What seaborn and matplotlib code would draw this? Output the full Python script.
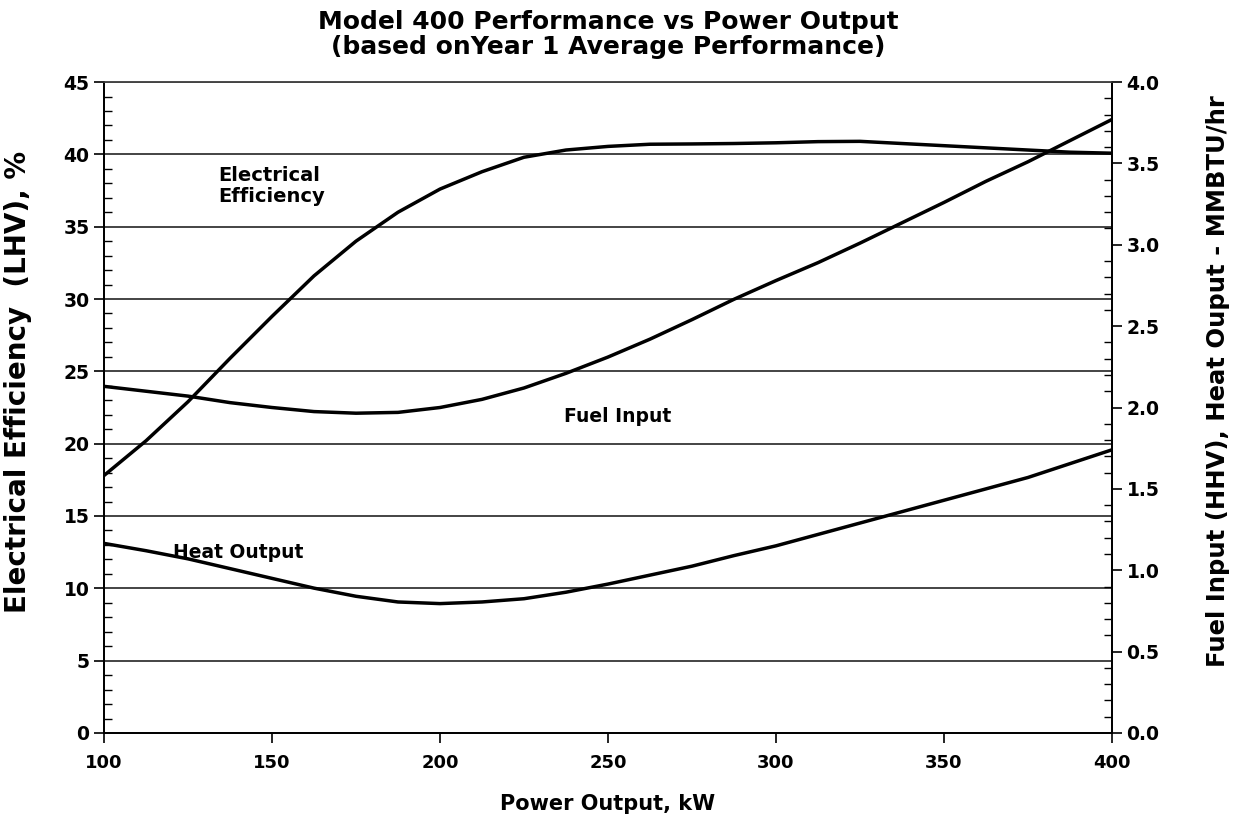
import matplotlib
matplotlib.use("Agg")
import matplotlib.pyplot as plt
from matplotlib.ticker import MultipleLocator, FormatStrFormatter
import seaborn as sns
import pandas as pd

# Valores (kW cada 12.5)
power_kw = [100, 112.5, 125, 137.5, 150, 162.5, 175, 187.5, 200, 212.5, 225, 237.5, 250,
            262.5, 275, 287.5, 300, 312.5, 325, 337.5, 350, 362.5, 375, 387.5, 400]
elec_eff = [17.8, 20.2, 22.9, 25.9, 28.8, 31.6, 34.0, 36.0, 37.6, 38.8, 39.8, 40.3, 40.55,
            40.7, 40.72, 40.75, 40.8, 40.88, 40.9, 40.75, 40.6, 40.45, 40.3, 40.15, 40.08]
fuel_input = [2.13, 2.10, 2.07, 2.03, 2.00, 1.975, 1.965, 1.97, 2.00, 2.05, 2.12, 2.21, 2.31,
              2.42, 2.54, 2.665, 2.78, 2.89, 3.01, 3.135, 3.26, 3.39, 3.51, 3.64, 3.77]
heat_output = [1.165, 1.12, 1.07, 1.01, 0.95, 0.89, 0.84, 0.805, 0.795, 0.805, 0.825, 0.865, 0.915,
               0.97, 1.025, 1.09, 1.15, 1.22, 1.29, 1.36, 1.43, 1.50, 1.57, 1.655, 1.74]

df = pd.DataFrame({"kw": power_kw, "eff": elec_eff, "fuel": fuel_input, "heat": heat_output})

sns.set_style("ticks")
plt.rcParams['font.family'] = ['DejaVu Sans']
plt.rcParams['font.weight'] = 'bold'
plt.rcParams['text.color'] = 'black'
plt.rcParams['axes.labelcolor'] = 'black'
plt.rcParams['xtick.color'] = 'black'
plt.rcParams['ytick.color'] = 'black'

fig = plt.figure(figsize=(12.37, 8.22), dpi=100)
ax = fig.add_axes([0.0841, 0.1083, 0.8148, 0.7919])
ax2 = ax.twinx()

sns.lineplot(data=df, x="kw", y="eff", ax=ax, color="black", linewidth=2.5)
sns.lineplot(data=df, x="kw", y="fuel", ax=ax2, color="black", linewidth=2.5)
sns.lineplot(data=df, x="kw", y="heat", ax=ax2, color="black", linewidth=2.5)

ax.set_xlim(100, 400)
ax.set_ylim(0, 45)
ax2.set_ylim(0, 4.0)

# Lineas horizontales
for v in range(5, 46, 5):
    ax.axhline(v, color="#111111", linewidth=1.1, zorder=0)

ax.xaxis.set_major_locator(MultipleLocator(50))
ax.yaxis.set_major_locator(MultipleLocator(5))
ax.yaxis.set_minor_locator(MultipleLocator(1))
ax2.yaxis.set_major_locator(MultipleLocator(0.5))
ax2.yaxis.set_minor_locator(MultipleLocator(0.1))
ax2.yaxis.set_major_formatter(FormatStrFormatter('%.1f'))

ax.tick_params(axis="x", which="major", direction="out", length=7, width=1.2, labelsize=13, pad=8)
ax.tick_params(axis="y", which="major", direction="out", length=7, width=1.2, labelsize=13.5)
ax.tick_params(axis="y", which="minor", direction="in", length=6, width=1)
ax2.tick_params(axis="y", which="major", direction="out", length=7, width=1.2, labelsize=13.5)
ax2.tick_params(axis="y", which="minor", direction="in", length=6, width=1)

for a in (ax, ax2):
    for s in a.spines.values():
        s.set_color("black")
        s.set_linewidth(1.3)
    a.spines["top"].set_color("#444444")
    a.spines["top"].set_linewidth(1.1)

ax.set_xlabel("Power Output, kW", fontsize=15, fontweight="bold", labelpad=16)
ax.set_ylabel("Electrical Efficiency  (LHV), %", fontsize=20, fontweight="bold")
ax2.set_ylabel("Fuel Input (HHV), Heat Ouput - MMBTU/hr", fontsize=17.5, fontweight="bold")
ax.yaxis.set_label_coords(-0.071, 0.54)
ax2.yaxis.set_label_coords(1.093, 0.54)
ax.set_title("Model 400 Performance vs Power Output\n(based onYear 1 Average Performance)",
             fontsize=18, fontweight="bold", pad=20, linespacing=1.05)

ax.text(134, 37.8, "Electrical\nEfficiency", fontsize=14, fontweight="bold", va="center", linespacing=1.1)
ax.text(237, 21.85, "Fuel Input", fontsize=13.5, fontweight="bold", va="center")
ax.text(120.5, 12.45, "Heat Output", fontsize=13.5, fontweight="bold", va="center")

plt.savefig("out.png", dpi=100)
plt.close()
